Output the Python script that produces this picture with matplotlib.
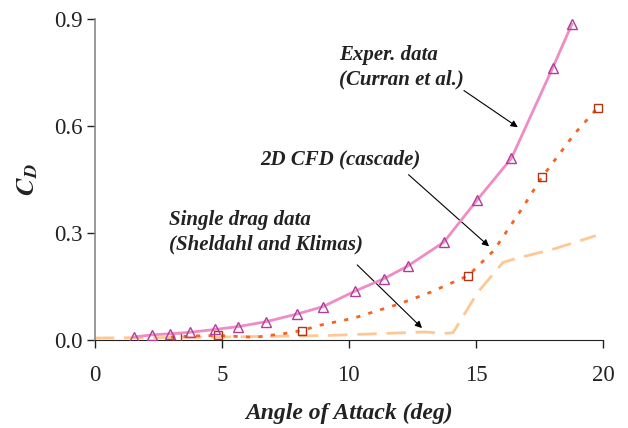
import matplotlib
matplotlib.use('Agg')
import matplotlib.pyplot as plt
import numpy as np

# Experimental data (Curran et al.)
exp_aoa = [1.53, 2.26, 2.96, 3.73, 4.72, 5.64, 6.75, 7.94, 8.98, 10.25,
           11.37, 12.32, 13.74, 15.06, 16.40, 18.02, 18.78]
exp_cd = [0.008, 0.014, 0.017, 0.021, 0.029, 0.037, 0.051, 0.072, 0.093, 0.137,
          0.171, 0.207, 0.274, 0.393, 0.509, 0.762, 0.885]

# 2D CFD (cascade) - line and marker points
cfd_aoa = [3.0, 4.0, 4.9, 6.3, 7.5, 8.2, 8.8, 10.2, 12.0, 13.2, 14.7,
           15.7, 16.8, 17.6, 18.9, 19.8]
cfd_cd = [0.008, 0.011, 0.012, 0.007, 0.018, 0.027, 0.040, 0.061, 0.101, 0.133, 0.180,
          0.250, 0.366, 0.456, 0.579, 0.651]
cfd_mk_aoa = [3.25, 4.84, 8.16, 14.68, 17.61, 19.80]
cfd_mk_cd = [0.009, 0.013, 0.025, 0.180, 0.456, 0.651]

# Single drag data (Sheldahl and Klimas)
sd_aoa = [0.0, 5.1, 9.1, 13.0, 13.75, 14.1, 15.07, 16.07, 16.53, 18.13, 19.72]
sd_cd = [0.005, 0.008, 0.012, 0.022, 0.018, 0.020, 0.133, 0.217, 0.227, 0.256, 0.292]

plt.rcParams['font.family'] = 'Liberation Serif'
plt.rcParams['mathtext.fontset'] = 'stix'

fig = plt.figure(figsize=(6.28, 4.28), dpi=100)
ax = fig.add_axes([0.151, 0.206, 0.809, 0.750])

ax.plot(sd_aoa, sd_cd, color='#fdc896', lw=2.0, dashes=(7, 3.5), zorder=2)
ax.plot(cfd_aoa, cfd_cd, color='#f26522', lw=2.0, dashes=(1.5, 3), zorder=3)
ax.plot(cfd_mk_aoa, cfd_mk_cd, ls='none', marker='s', ms=6, mfc='none',
        mec='#b23316', mew=1.0, zorder=4)
ax.plot(exp_aoa, exp_cd, color='#f08cc4', lw=2.0, zorder=5)
ax.plot(exp_aoa, exp_cd, ls='none', marker='^', ms=7, mfc='none',
        mec='#b03c9c', mew=1.0, zorder=6)

ax.set_xlim(0, 20)
ax.set_ylim(0, 0.9)
ax.set_xticks([0, 5, 10, 15, 20])
ax.set_yticks([0.0, 0.3, 0.6, 0.9])
ax.set_yticklabels(['0.0', '0.3', '0.6', '0.9'])
ax.tick_params(direction='out', length=6, width=1, labelsize=16.5, colors='#222222')
ax.tick_params(axis='x', pad=12)
ax.tick_params(axis='y', pad=3)
ax.spines['top'].set_visible(False)
ax.spines['right'].set_visible(False)
ax.spines['left'].set_color('#888888')
ax.spines['left'].set_linewidth(1.2)
ax.spines['bottom'].set_color('#222222')

ax.set_xlabel('Angle of Attack (deg)', fontsize=17, fontweight='bold',
              style='italic', color='#222222', labelpad=12)
ax.set_ylabel(r'$\mathbfit{C}_{\mathbfit{D}}$', fontsize=19, color='#222222', labelpad=10)

txt = dict(fontsize=15, fontweight='bold', style='italic', color='#222222',
           linespacing=1.3)
arr = dict(arrowstyle='-|>', color='black', lw=0.8, mutation_scale=10,
           shrinkA=0, shrinkB=0)
ax.text(9.62, 0.827, 'Exper. data\n(Curran et al.)', ha='left', va='top', **txt)
ax.annotate('', xy=(16.65, 0.596), xytext=(14.53, 0.699), arrowprops=arr)
ax.text(6.5, 0.505, '2D CFD (cascade)', ha='left', va='center', **txt)
ax.annotate('', xy=(15.52, 0.262), xytext=(12.35, 0.463), arrowprops=arr)
ax.text(2.91, 0.364, 'Single drag data\n(Sheldahl and Klimas)', ha='left', va='top', **txt)
ax.annotate('', xy=(12.88, 0.033), xytext=(10.33, 0.210), arrowprops=arr)

fig.savefig('out.png', dpi=100)
